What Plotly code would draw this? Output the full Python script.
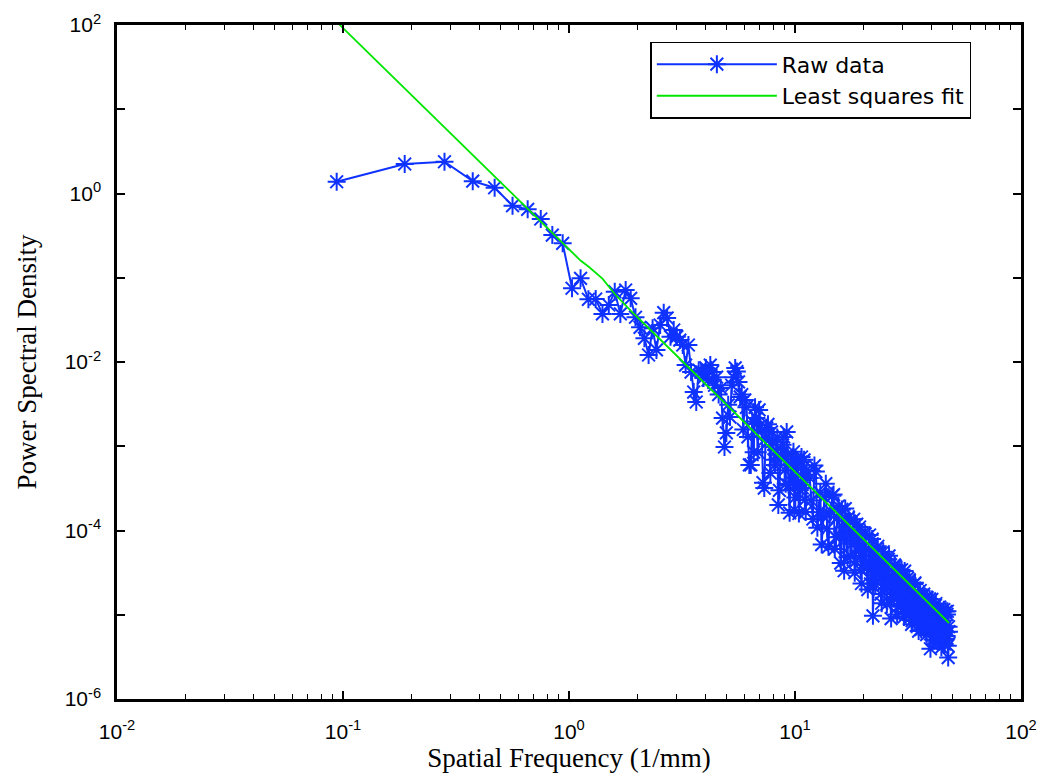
import plotly.graph_objects as go

# frequency bin spacing (1/mm); bins and PSD values
df = 0.09375

bins_a = list(range(1, 61)) + list(range(62, 121, 2)) + list(range(124, 513, 4))
psd_a = [
    1.38, 2.24, 2.38, 1.40, 1.17, 0.716, 0.649, 0.498, 0.321, 0.256,
    0.075, 0.0984, 0.0555, 0.056, 0.0372, 0.0475, 0.0683, 0.0372, 0.0716, 0.057,
    0.034, 0.0258, 0.0191, 0.0121, 0.0251, 0.0139, 0.0275, 0.0385, 0.0333, 0.020,
    0.024, 0.020, 0.0182, 0.0159, 0.0092, 0.0159, 0.0076, 0.0044, 0.00335, 0.0080,
    0.0076, 0.00646, 0.0085, 0.0061, 0.0092, 0.0076, 0.0053, 0.0066, 0.0041, 0.0049,
    0.00216, 0.00098, 0.00144, 0.0031, 0.00222, 0.0053, 0.0066, 0.0085, 0.0077, 0.0058,
    # k = 62..120 step 2
    0.0041, 0.00354, 0.00129, 0.0006, 0.00085, 0.00216, 0.0027, 0.00156, 0.000319, 0.00165,
    0.00119, 0.00148, 0.00069, 0.0009, 0.000201, 0.00079, 0.00104, 0.00052, 0.00148, 0.000347,
    0.0006, 0.000366, 0.000175, 0.00069, 0.000456, 0.000303, 0.000745, 0.000397, 0.00023, 0.00052,
    # k = 124..512 step 4
    4.2e-4, 1.37e-4, 5.0e-4, 1.65e-4, 6.8e-5, 2.5e-4, 1.05e-4, 1.55e-4, 2.58e-4, 6.05e-5,
    1.43e-4, 8.4e-5, 1.78e-4, 3.33e-5, 8.9e-5, 1.42e-4, 5.0e-5, 9.4e-5, 3.16e-5, 1.19e-4,
    5.7e-5, 3.4e-5, 9.1e-5, 3.9e-5, 5.9e-5, 1.99e-5, 8.85e-5, 3.6e-5, 9.7e-6, 5.2e-5,
    2.5e-5, 6.5e-5, 3.26e-5, 1.76e-5, 4.75e-5, 2.29e-5, 3.48e-5, 1.33e-5, 4.56e-5, 2.2e-5,
    9.0e-6, 2.57e-5, 1.56e-5, 3.8e-5, 2.06e-5, 1.25e-5, 2.71e-5, 1.47e-5, 3.42e-5, 1.95e-5,
    9.4e-6, 2.05e-5, 1.4e-5, 2.72e-5, 1.05e-5, 1.61e-5, 1.96e-5, 8.5e-6, 1.31e-5, 2.32e-5,
    9.8e-6, 1.51e-5, 1.04e-5, 6.4e-6, 1.75e-5, 1.07e-5, 7.4e-6, 1.28e-5, 1.76e-5, 8.0e-6,
    1.05e-5, 5.8e-6, 1.26e-5, 8.3e-6, 1.54e-5, 3.95e-6, 9.7e-6, 7.0e-6, 1.09e-5, 4.95e-6,
    8.2e-6, 1.36e-5, 5.8e-6, 8.6e-6, 6.7e-6, 4.8e-6, 5.1e-6, 8.2e-6, 5.8e-6, 1.06e-5,
    4.6e-6, 6.9e-6, 5.0e-6, 1.09e-5, 5.6e-6, 1.1e-5, 3.1e-6, 6.3e-6,
]

bins_b = list(range(61, 120, 2)) + list(range(126, 511, 4))
psd_b = [
    # k = 61..119 step 2
    3.85e-3, 1.58e-3, 2.9e-3, 6.0e-4, 1.97e-3, 2.9e-3, 8.5e-4, 1.77e-3, 3.7e-4, 1.23e-3,
    1.82e-3, 4.8e-4, 1.14e-3, 6.0e-4, 1.27e-3, 3.0e-4, 7.1e-4, 1.29e-3, 3.6e-4, 8.0e-4,
    1.62e-4, 6.1e-4, 8.6e-4, 2.47e-4, 5.9e-4, 1.59e-4, 6.5e-4, 3.2e-4, 6.9e-4, 1.66e-4,
    # k = 126..510 step 4
    2.27e-4, 5.9e-4, 1.08e-4, 2.82e-4, 1.48e-4, 3.6e-4, 6.4e-5, 1.68e-4, 2.67e-4, 8.3e-5,
    1.95e-4, 4.1e-5, 1.09e-4, 1.82e-4, 4.8e-5, 1.29e-4, 6.9e-5, 1.36e-4, 4.3e-5, 7.7e-5,
    1.1e-4, 2.35e-5, 5.6e-5, 9.1e-5, 3.6e-5, 6.1e-5, 2.33e-5, 7.9e-5, 3.8e-5, 2.29e-5,
    6.2e-5, 2.96e-5, 4.0e-5, 1.37e-5, 5.6e-5, 2.0e-5, 3.8e-5, 2.33e-5, 5.0e-5, 1.53e-5,
    2.94e-5, 1.79e-5, 3.9e-5, 2.35e-5, 1.01e-5, 2.45e-5, 3.35e-5, 1.29e-5, 2.49e-5, 1.52e-5,
    3.3e-5, 1.01e-5, 1.74e-5, 1.19e-5, 2.59e-5, 1.41e-5, 7.7e-6, 1.75e-5, 1.03e-5, 2.39e-5,
    1.22e-5, 8.4e-6, 1.63e-5, 1.0e-5, 1.94e-5, 6.7e-6, 1.24e-5, 8.3e-6, 1.55e-5, 1.0e-5,
    6.6e-6, 1.6e-5, 9.9e-6, 6.8e-6, 1.18e-5, 7.8e-6, 1.52e-5, 5.1e-6, 9.5e-6, 6.6e-6,
    1.29e-5, 7.9e-6, 4.9e-6, 9.5e-6, 5.9e-6, 1.23e-5, 7.1e-6, 4.1e-6, 8.5e-6, 5.9e-6,
    1.15e-5, 4.5e-6, 7.3e-6, 5.2e-6, 1.01e-5, 4.3e-6, 7.2e-6,
]

fit_bins = [1, 4, 8, 11, 12, 13, 15, 17, 20, 25, 30, 40, 50, 60, 70, 80, 100, 120,
            150, 180, 200, 250, 300, 350, 390, 450, 512]
fit_psd = [109, 2.83, 0.456, 0.197, 0.160, 0.136, 0.0977, 0.0641, 0.0408, 0.0227,
           0.01403, 0.00658, 0.00366, 0.00226, 0.00151, 0.00106, 0.000589, 0.000364,
           0.000202, 0.000125, 9.5e-5, 5.27e-5, 3.26e-5, 2.17e-5, 1.63e-5, 1.12e-5, 7.98e-6]

# merge the two read-off sets in frequency order
raw = sorted(zip(bins_a + bins_b, psd_a + psd_b))
raw_freq = [k * df for k, _ in raw]
raw_psd = [v for _, v in raw]
fit_freq = [k * df for k in fit_bins]

x_ticks = [0.01, 0.1, 1, 10, 100]
x_ticktext = ["10<sup>-2</sup>", "10<sup>-1</sup>", "10<sup>0</sup>", "10<sup>1</sup>", "10<sup>2</sup>"]
x_minor = [m * d for d in [0.01, 0.1, 1, 10] for m in range(2, 10)]
y_ticks = [1e-6, 1e-4, 1e-2, 1, 100]
y_ticktext = ["10<sup>-6</sup>", "10<sup>-4</sup>", "10<sup>-2</sup>", "10<sup>0</sup>", "10<sup>2</sup>"]
y_unlabeled = [1e-5, 1e-3, 1e-1, 10]

BLUE = "rgb(15,50,255)"
GREEN = "rgb(0,230,0)"

fig = go.Figure()
fig.add_trace(go.Scatter(
    x=raw_freq, y=raw_psd, mode="lines+markers", name="Raw data",
    line=dict(color=BLUE, width=2),
    marker=dict(symbol="asterisk-open", size=15, color=BLUE,
                line=dict(color=BLUE, width=2)),
))
fig.add_trace(go.Scatter(
    x=fit_freq, y=fit_psd, mode="lines", name="Least squares fit",
    line=dict(color=GREEN, width=1.8),
))

tickfont = dict(family="Liberation Sans, Arial, sans-serif", size=21, color="black")
titlefont = dict(family="Liberation Serif, Times New Roman, serif", size=27, color="black")

fig.update_xaxes(
    type="log", range=[-2, 2], tickmode="array", tickvals=x_ticks, ticktext=x_ticktext,
    ticks="inside", ticklen=8, tickwidth=1.5, tickcolor="black",
    minor=dict(tickmode="array", tickvals=x_minor, ticks="inside", ticklen=5,
               tickwidth=1.2, tickcolor="black", showgrid=False),
    showline=True, linecolor="black", linewidth=2.5, mirror="allticks",
    showgrid=False, zeroline=False, tickfont=tickfont, automargin=False,
    ticklabelstandoff=12,
    title=dict(text="Spatial Frequency (1/mm)", font=titlefont, standoff=6),
)
fig.update_yaxes(
    type="log", range=[-6, 2], tickmode="array", tickvals=y_ticks, ticktext=y_ticktext,
    ticks="inside", ticklen=8, tickwidth=1.5, tickcolor="black",
    minor=dict(tickmode="array", tickvals=y_unlabeled, ticks="inside", ticklen=8,
               tickwidth=1.5, tickcolor="black", showgrid=False),
    showline=True, linecolor="black", linewidth=2.5, mirror="allticks",
    showgrid=False, zeroline=False, tickfont=tickfont, automargin=False,
    ticklabelstandoff=9,
    title=dict(text="Power Spectral Density", font=titlefont, standoff=21),
)

fig.update_layout(
    width=1039, height=778,
    margin=dict(l=117, r=18, t=25, b=79),
    paper_bgcolor="white", plot_bgcolor="white",
    showlegend=True,
    legend=dict(
        x=0.59, y=0.975, xanchor="left", yanchor="top",
        bordercolor="black", borderwidth=1.5, bgcolor="white",
        font=dict(family="DejaVu Sans, Liberation Sans, sans-serif", size=22, color="black"),
        itemwidth=120, tracegroupgap=0,
    ),
)

# remove the default page margin so the figure fills the window exactly
fig.write_html(
    "out.html",
    config={"displayModeBar": False},
    post_script="document.body.style.margin='0';document.documentElement.style.overflow='hidden';",
)
